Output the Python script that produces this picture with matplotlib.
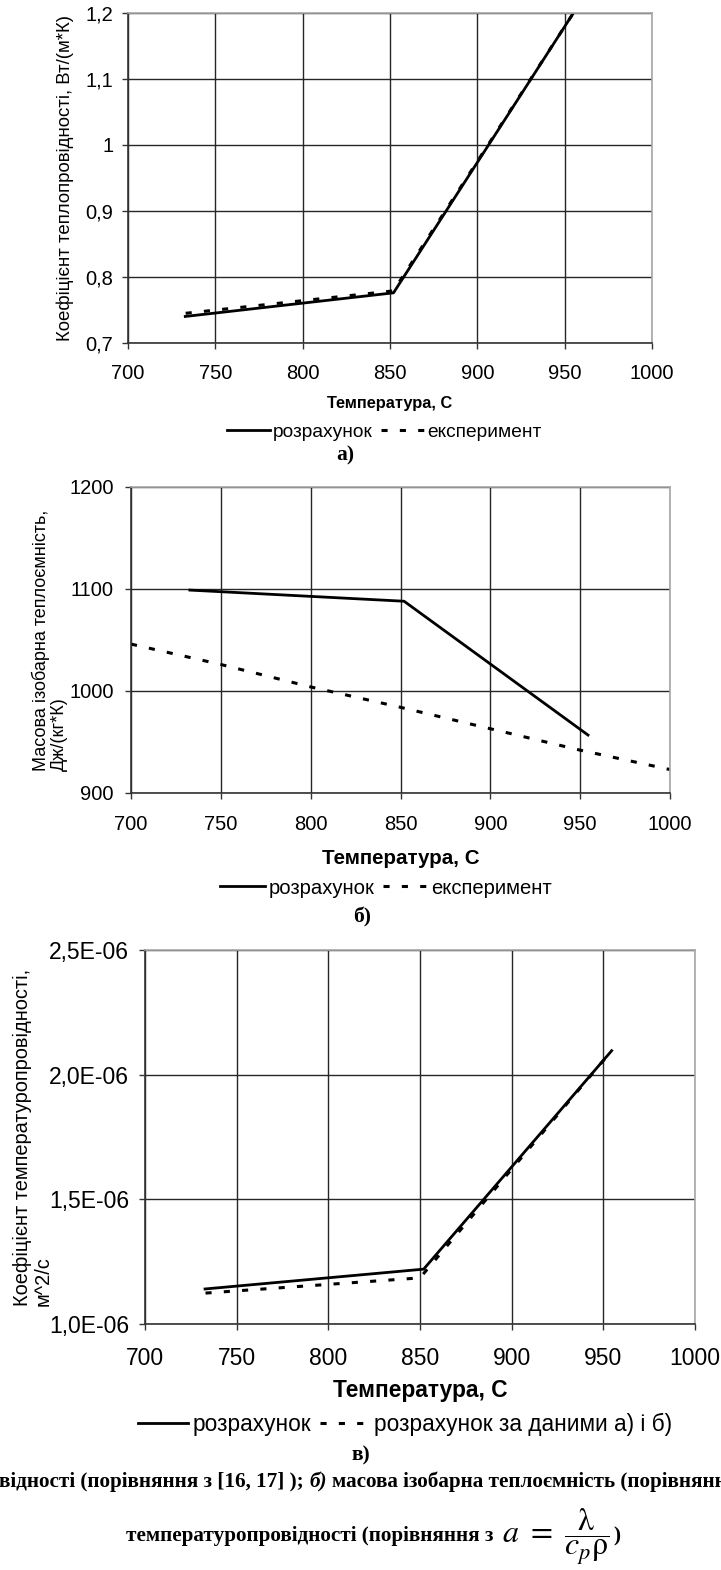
import matplotlib.pyplot as plt
from matplotlib.ticker import FuncFormatter
from matplotlib.lines import Line2D

plt.rcParams['font.family'] = ['Liberation Sans', 'DejaVu Sans']
plt.rcParams['mathtext.fontset'] = 'stix'

W, H = 721, 1570

# --- data ---
temps = [700, 750, 800, 850, 900, 950, 1000]

# a) thermal conductivity, W/(m*K)
temp_calc_a = [732, 852, 955]
lam_calc = [0.740, 0.776, 1.200]
temp_exp_a = [733, 852, 955]
lam_exp = [0.745, 0.779, 1.200]
lam_ticks = [0.7, 0.8, 0.9, 1.0, 1.1, 1.2]

# b) isobaric heat capacity, J/(kg*K)
temp_calc_b = [732, 852, 955]
cp_calc = [1099, 1088, 956]
temp_exp_b = [700, 750, 800, 850, 900, 950, 1000]
cp_exp = [1046, 1026, 1004, 984, 963, 942, 923]
cp_ticks = [900, 1000, 1100, 1200]

# c) thermal diffusivity, m^2/s
temp_calc_c = [732, 852, 955]
a_calc = [1.14e-6, 1.22e-6, 2.10e-6]
temp_exp_c = [733, 850, 955]
a_exp = [1.124e-6, 1.185e-6, 2.10e-6]
a_ticks = [1.0e-6, 1.5e-6, 2.0e-6, 2.5e-6]

xlabel = "Температура, С"
DASH = (0, (2.0, 4.0))


def fx(px):
    return px / W


def fy(py):
    return 1 - py / H


def panel(fig, box, xs1, ys1, xs2, ys2, yticks, yfmt, ylabel, ylab_x,
          tick_fs, xlab_fs, xlab_y, ylab_fs, leg_labels, leg_pos, leg_fs,
          handlelen, xpad, ypad):
    l, t, r, b = box
    ax = fig.add_axes([fx(l), fy(b), (r - l) / W, (b - t) / H])
    ax.plot(xs1, ys1, color='black', lw=2.0, solid_capstyle='butt')
    ax.plot(xs2, ys2, color='black', lw=2.2, linestyle=DASH,
            dash_capstyle='butt')
    ax.set_xlim(700, 1000)
    ax.set_ylim(yticks[0], yticks[-1])
    ax.set_xticks(temps)
    ax.set_yticks(yticks)
    ax.yaxis.set_major_formatter(FuncFormatter(yfmt))
    ax.grid(True, color='#262626', lw=1.0)
    for s in ['left', 'bottom']:
        ax.spines[s].set_color('#333333')
        ax.spines[s].set_linewidth(1.2)
    for s in ['top', 'right']:
        ax.spines[s].set_color('#a8a8a8')
        ax.spines[s].set_linewidth(1.2)
    ax.tick_params(direction='out', length=4.5, width=1.0, color='#333333',
                   labelsize=tick_fs)
    ax.tick_params(axis='x', pad=xpad)
    ax.tick_params(axis='y', pad=ypad)

    ax.set_xlabel(xlabel, fontsize=xlab_fs, fontweight='bold', va='center')
    ax.xaxis.set_label_coords(0.5, xlab_y)
    ax.set_ylabel(ylabel, fontsize=ylab_fs, va='center', multialignment='left',
                  linespacing=1.05)
    ax.yaxis.set_label_coords(ylab_x, 0.5)

    handles = [Line2D([], [], color='black', lw=2.0),
               Line2D([], [], color='black', lw=2.2, linestyle=DASH,
                      dash_capstyle='butt')]
    ax.legend(handles, leg_labels, loc='center',
              bbox_to_anchor=(fx(leg_pos[0]), fy(leg_pos[1])),
              bbox_transform=fig.transFigure, ncol=2, frameon=False,
              fontsize=leg_fs, handlelength=handlelen, handletextpad=0.18,
              columnspacing=0.4, borderpad=0, borderaxespad=0)
    return ax


fig = plt.figure(figsize=(W / 100, H / 100), dpi=100)

panel(fig, (128, 13, 652, 343), temp_calc_a, lam_calc, temp_exp_a, lam_exp,
      lam_ticks, lambda v, p: f"{v:g}".replace('.', ','),
      "Коефіцієнт теплопровідності, Вт/(м*К)", -0.120,
      14.5, 11.8, -0.182, 13.4,
      ["розрахунок", "експеримент"], (384, 432), 13.8, 2.25, 10.5, 6)

panel(fig, (131, 487, 670, 793), temp_calc_b, cp_calc, temp_exp_b, cp_exp,
      cp_ticks, lambda v, p: f"{v:.0f}",
      "Масова ізобарна теплоємність,\nДж/(кг*К)", -0.150,
      14.5, 14.8, -0.213, 13.0,
      ["розрахунок", "експеримент"], (386, 888), 14.6, 2.2, 11, 8)

panel(fig, (145, 950, 695, 1324), temp_calc_c, a_calc, temp_exp_c, a_exp,
      a_ticks, lambda v, p: f"{v * 1e6:.1f}E-06".replace('.', ','),
      "Коефіцієнт температуропровідності,\nм^2/с", -0.204,
      16.5, 16.4, -0.178, 14.4,
      ["розрахунок", "розрахунок за даними а) і б)"], (405, 1424), 16.3, 2.2,
      12, 7)

# panel captions
serif = ['Liberation Serif', 'DejaVu Serif']
for lab, cx, cy in [("а)", 345, 455), ("б)", 362, 917), ("в)", 361, 1455)]:
    fig.text(fx(cx), fy(cy), lab, ha='center', va='center', family=serif,
             fontsize=15.5, fontweight='bold')

# figure caption (cut off at the edges in the source)
cap = fig.add_axes([0, 0, 1, 1])
cap.axis('off')
cap.set_xlim(0, 1)
cap.set_ylim(0, 1)
CAP_FS = 15.2
y1 = fy(1487)
t1 = cap.text(fx(-1), y1, "відності (порівняння з [16, 17] );", ha='left',
              va='baseline', family=serif, fontsize=CAP_FS, fontweight='bold')
t2 = cap.annotate("б)", xy=(1, y1), xycoords=(t1, 'axes fraction'),
                  xytext=(4, 0), textcoords='offset points', ha='left',
                  va='baseline', family=serif, fontsize=CAP_FS,
                  fontweight='bold', style='italic')
cap.annotate("масова ізобарна теплоємність (порівняння", xy=(1, y1),
             xycoords=(t2, 'axes fraction'), xytext=(4, 0),
             textcoords='offset points', ha='left', va='baseline',
             family=serif, fontsize=CAP_FS, fontweight='bold')

y2 = fy(1541)
t3 = cap.text(fx(126), y2, "температуропровідності (порівняння з", ha='left',
              va='baseline', family=serif, fontsize=CAP_FS, fontweight='bold')
t4 = cap.annotate(r"$a\ =\ \dfrac{\mathrm{\lambda}}{c_p\mathrm{\rho}}$",
                  xy=(1, fy(1537)), xycoords=(t3, 'axes fraction'),
                  xytext=(6, 0), textcoords='offset points', ha='left',
                  va='center', fontsize=23)
cap.annotate(")", xy=(1, y2), xycoords=(t4, 'axes fraction'), xytext=(3, 0),
             textcoords='offset points', ha='left', va='baseline',
             family=serif, fontsize=CAP_FS, fontweight='bold')

fig.savefig("out.png", dpi=100)
